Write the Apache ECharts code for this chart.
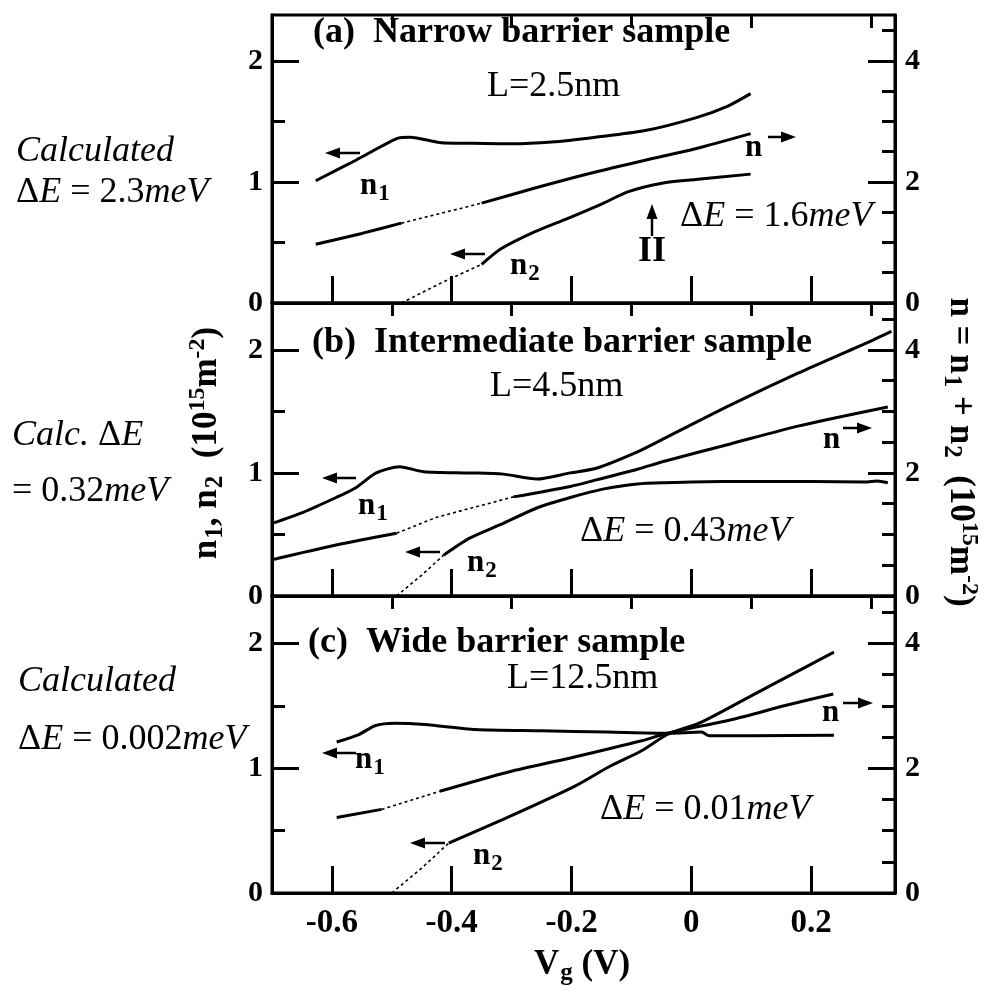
<!DOCTYPE html>
<html>
<head>
<meta charset="utf-8">
<script src="https://cdn.jsdelivr.net/npm/echarts@6/dist/echarts.min.js"></script>
<style>html,body{margin:0;background:#fff}#chart{width:1002px;height:992px}</style>
</head>
<body>
<div id="chart"></div>
<script>
// Vg (V) on x; left axis n1, n2, right axis n = n1 + n2 (10^15 m^-2)
const xMajor = [-0.6, -0.4, -0.2, 0, 0.2];
const xMinor = [-0.7, -0.5, -0.3, -0.1, 0.1, 0.3];
const leftMajor = [0, 1, 2];
const leftMinor = [0.5, 1.5];
const rightMajor = [0, 2, 4];
const rightMinor = [0.5, 1, 1.5, 2.5, 3, 3.5, 4.5];

// (a) narrow barrier, L=2.5nm
const aN1 = [[-0.627,1.01],[-0.56,1.18],[-0.491,1.36],[-0.47,1.37],[-0.417,1.325],[-0.373,1.32],[-0.30,1.315],[-0.233,1.33],[-0.16,1.37],[-0.077,1.425],[0.007,1.53],[0.062,1.63],[0.099,1.73]];
const aN2dot = [[-0.484,0],[-0.42,0.16],[-0.35,0.32]];
const aN2 = [[-0.35,0.32],[-0.317,0.45],[-0.261,0.59],[-0.206,0.70],[-0.149,0.82],[-0.105,0.92],[-0.049,0.99],[0.007,1.02],[0.099,1.065]];
const aNlo = [[-0.627,0.97],[-0.55,1.15],[-0.484,1.32]];
const aNdot = [[-0.484,1.32],[-0.35,1.65]];
const aNhi = [[-0.35,1.65],[-0.261,1.9],[-0.17,2.14],[-0.077,2.36],[0.007,2.55],[0.099,2.8]];

// (b) intermediate barrier, L=4.5nm
const bN1 = [[-0.70,0.59],[-0.648,0.68],[-0.593,0.80],[-0.56,0.88],[-0.526,1.00],[-0.487,1.05],[-0.447,1.01],[-0.37,1.00],[-0.314,0.99],[-0.258,0.95],[-0.202,1.00],[-0.157,1.04],[-0.09,1.17],[-0.045,1.28],[0.065,1.55],[0.178,1.81],[0.29,2.05],[0.334,2.15]];
const bN2dot = [[-0.492,0],[-0.45,0.17],[-0.414,0.33]];
const bN2 = [[-0.414,0.33],[-0.37,0.47],[-0.314,0.59],[-0.258,0.715],[-0.202,0.80],[-0.146,0.87],[-0.09,0.91],[-0.045,0.92],[0.05,0.93],[0.122,0.93],[0.2,0.93],[0.29,0.925],[0.31,0.935],[0.328,0.92]];
const bNlo = [[-0.70,0.59],[-0.593,0.83],[-0.492,1.02]];
const bNdot = [[-0.492,1.02],[-0.425,1.28],[-0.297,1.61]];
const bNhi = [[-0.297,1.61],[-0.202,1.78],[-0.157,1.89],[-0.09,2.06],[-0.045,2.19],[0.065,2.47],[0.178,2.76],[0.328,3.07]];

// (c) wide barrier, L=12.5nm
const cN1 = [[-0.592,1.21],[-0.555,1.27],[-0.528,1.34],[-0.495,1.36],[-0.445,1.35],[-0.36,1.31],[-0.25,1.30],[-0.14,1.29],[-0.04,1.28],[0.017,1.29],[0.03,1.26],[0.10,1.26],[0.238,1.265]];
const cN2dot = [[-0.50,0],[-0.45,0.2],[-0.405,0.40]];
const cN2 = [[-0.405,0.40],[-0.305,0.61],[-0.195,0.855],[-0.138,1.01],[-0.083,1.14],[-0.04,1.27],[0.017,1.37],[0.10,1.58],[0.155,1.72],[0.238,1.93]];
const cNlo = [[-0.592,1.21],[-0.517,1.34]];
const cNdot = [[-0.517,1.34],[-0.42,1.63]];
const cNhi = [[-0.42,1.63],[-0.305,1.94],[-0.195,2.18],[-0.083,2.44],[-0.04,2.56],[0.072,2.79],[0.155,3.0],[0.237,3.19]];

const F = '"Liberation Serif", "Times New Roman", serif';
const black = '#000';

let chart = echarts.init(document.getElementById('chart'), null, {renderer: 'canvas'});

const grids = [
  {left: 272, right: 107, top: 15, height: 288},
  {left: 272, right: 107, top: 303, height: 293},
  {left: 272, right: 107, top: 596, height: 297}
].map(g => Object.assign(g, {show: true, borderColor: black, borderWidth: 3, containLabel: false}));

let xAxes = [], yAxes = [];
for (let i = 0; i < 3; i++) {
  xAxes.push({
    type: 'value', gridIndex: i, min: -0.7, max: 0.34,
    axisLine: {show: true, onZero: false, lineStyle: {color: black, width: 3}},
    axisTick: {show: true, inside: true, length: 27, customValues: xMajor, lineStyle: {color: black, width: 3}},
    axisLabel: {show: i === 2, customValues: xMajor, margin: 14, color: black,
      fontFamily: F, fontWeight: 'bold', fontSize: 33},
    splitLine: {show: false}
  });
}
for (let i = 0; i < 3; i++) {
  xAxes.push({
    type: 'value', gridIndex: i, min: -0.7, max: 0.34,
    axisLine: {show: false, onZero: false},
    axisTick: {show: true, inside: true, length: 13, customValues: xMinor, lineStyle: {color: black, width: 3}},
    axisLabel: {show: false}, splitLine: {show: false}
  });
}
const yFont = {color: black, fontFamily: F, fontWeight: 'bold', fontSize: 30};
for (let i = 0; i < 3; i++) {
  // left major, left minor, right major, right minor
  yAxes.push({
    type: 'value', gridIndex: i, min: 0, max: 2.38, position: 'left',
    axisLine: {show: true, onZero: false, lineStyle: {color: black, width: 3}},
    axisTick: {show: true, inside: true, length: 27, customValues: leftMajor, lineStyle: {color: black, width: 3}},
    axisLabel: Object.assign({customValues: leftMajor, margin: 9}, yFont),
    splitLine: {show: false}
  });
  yAxes.push({
    type: 'value', gridIndex: i, min: 0, max: 2.38, position: 'left',
    axisLine: {show: false, onZero: false},
    axisTick: {show: true, inside: true, length: 13, customValues: leftMinor, lineStyle: {color: black, width: 3}},
    axisLabel: {show: false}, splitLine: {show: false}
  });
  yAxes.push({
    type: 'value', gridIndex: i, min: 0, max: 4.76, position: 'right',
    axisLine: {show: true, onZero: false, lineStyle: {color: black, width: 3}},
    axisTick: {show: true, inside: true, length: 27, customValues: rightMajor, lineStyle: {color: black, width: 3}},
    axisLabel: Object.assign({customValues: rightMajor, margin: 10}, yFont),
    splitLine: {show: false}
  });
  yAxes.push({
    type: 'value', gridIndex: i, min: 0, max: 4.76, position: 'right',
    axisLine: {show: false, onZero: false},
    axisTick: {show: true, inside: true, length: 13, customValues: rightMinor, lineStyle: {color: black, width: 3}},
    axisLabel: {show: false}, splitLine: {show: false}
  });
}

function line(data, panel, right, dotted) {
  return {
    type: 'line', data: data, xAxisIndex: panel, yAxisIndex: panel * 4 + (right ? 2 : 0),
    symbol: 'none', silent: true, animation: false, smooth: dotted ? false : 0.25,
    lineStyle: {color: black, width: dotted ? 1.6 : 3, type: dotted ? [3, 3] : 'solid'}
  };
}

const series = [
  line(aN1, 0, false), line(aN2dot, 0, false, true), line(aN2, 0, false),
  line(aNlo, 0, true), line(aNdot, 0, true, true), line(aNhi, 0, true),
  line(bN1, 1, false), line(bN2dot, 1, false, true), line(bN2, 1, false),
  line(bNlo, 1, true), line(bNdot, 1, true, true), line(bNhi, 1, true),
  line(cN1, 2, false), line(cN2dot, 2, false, true), line(cN2, 2, false),
  line(cNlo, 2, true), line(cNdot, 2, true, true), line(cNhi, 2, true)
];

const rich = {
  it: {fontFamily: F, fontStyle: 'italic', fontSize: 36},
  rm: {fontFamily: F, fontSize: 36},
  bd: {fontFamily: F, fontWeight: 'bold', fontSize: 36},
  bn: {fontFamily: F, fontWeight: 'bold', fontSize: 31},
  sub: {fontFamily: F, fontWeight: 'bold', fontSize: 23, padding: [17, 0, 0, 1]},
  ax: {fontFamily: F, fontWeight: 'bold', fontSize: 35},
  axs: {fontFamily: F, fontWeight: 'bold', fontSize: 25, padding: [18, 0, 0, 1]},
  axp: {fontFamily: F, fontWeight: 'bold', fontSize: 24, padding: [0, 0, 18, 0]}
};

function txt(text, x, y, align, rotation) {
  return {
    type: 'text', x: x, y: y, rotation: rotation || 0, silent: true,
    style: {text: text, rich: rich, fill: black, font: '30px ' + F,
      align: align || 'left', verticalAlign: 'middle'}
  };
}

function arrow(x1, y1, x2, y2) {
  const dx = x2 - x1, dy = y2 - y1, len = Math.sqrt(dx * dx + dy * dy);
  const ux = dx / len, uy = dy / len, h = 15, w = 5.5;
  const bx = x2 - ux * h, by = y2 - uy * h;
  return [
    {type: 'line', silent: true, shape: {x1: x1, y1: y1, x2: bx, y2: by}, style: {stroke: black, lineWidth: 2.5}},
    {type: 'polygon', silent: true, shape: {points: [[x2, y2], [bx - uy * w, by + ux * w], [bx + uy * w, by - ux * w]]}, style: {fill: black}}
  ];
}

const graphics = [
  // left-side calculated values
  txt('{it|Calculated}', 16, 152),
  txt('{rm|Δ}{it|E}{rm| = 2.3}{it|meV}', 16, 193),
  txt('{it|Calc. }{rm|Δ}{it|E}', 12, 436),
  txt('{rm|= 0.32}{it|meV}', 12, 492),
  txt('{it|Calculated}', 18, 682),
  txt('{rm|Δ}{it|E}{rm| = 0.002}{it|meV}', 18, 740),
  // panel (a)
  txt('{bd|(a)  Narrow barrier sample}', 313, 33),
  txt('{rm|L=2.5nm}', 487, 87),
  txt('{rm|Δ}{it|E}{rm| = 1.6}{it|meV}', 680, 217),
  txt('{bd|II}', 652, 252, 'center'),
  txt('{bn|n}{sub|1}', 360, 186),
  txt('{bn|n}{sub|2}', 510, 266),
  txt('{bn|n}', 745, 148),
  // panel (b)
  txt('{bd|(b)  Intermediate barrier sample}', 312, 343),
  txt('{rm|L=4.5nm}', 490, 387),
  txt('{rm|Δ}{it|E}{rm| = 0.43}{it|meV}', 580, 532),
  txt('{bn|n}{sub|1}', 358, 506),
  txt('{bn|n}{sub|2}', 467, 563),
  txt('{bn|n}', 823, 440),
  // panel (c)
  txt('{bd|(c)  Wide barrier sample}', 308, 643),
  txt('{rm|L=12.5nm}', 507, 679),
  txt('{rm|Δ}{it|E}{rm| = 0.01}{it|meV}', 600, 810),
  txt('{bn|n}{sub|1}', 355, 760),
  txt('{bn|n}{sub|2}', 473, 856),
  txt('{bn|n}', 822, 713),
  // axis titles
  txt('{ax|n}{axs|1}{ax|, n}{axs|2}{ax|  (10}{axp|15}{ax|m}{axp|-2}{ax|)}', 207, 443, 'center', Math.PI / 2),
  txt('{ax|n = n}{axs|1}{ax| + n}{axs|2}{ax|  (10}{axp|15}{ax|m}{axp|-2}{ax|)}', 960, 452, 'center', -Math.PI / 2),
  txt('{ax|V}{axs|g}{ax| (V)}', 582, 965, 'center')
].concat(
  arrow(360, 153, 325, 153), arrow(485, 254, 450, 254), arrow(768, 137, 796, 137), arrow(652, 236, 652, 204),
  arrow(356, 478, 322, 478), arrow(440, 552, 405, 552), arrow(843, 428, 872, 428),
  arrow(356, 753, 322, 753), arrow(445, 843, 410, 843), arrow(843, 703, 873, 703)
);

const option = {
  backgroundColor: '#fff',
  animation: false,
  grid: grids,
  xAxis: xAxes,
  yAxis: yAxes,
  series: series,
  graphic: graphics
};

chart.setOption(option);
</script>
</body>
</html>
